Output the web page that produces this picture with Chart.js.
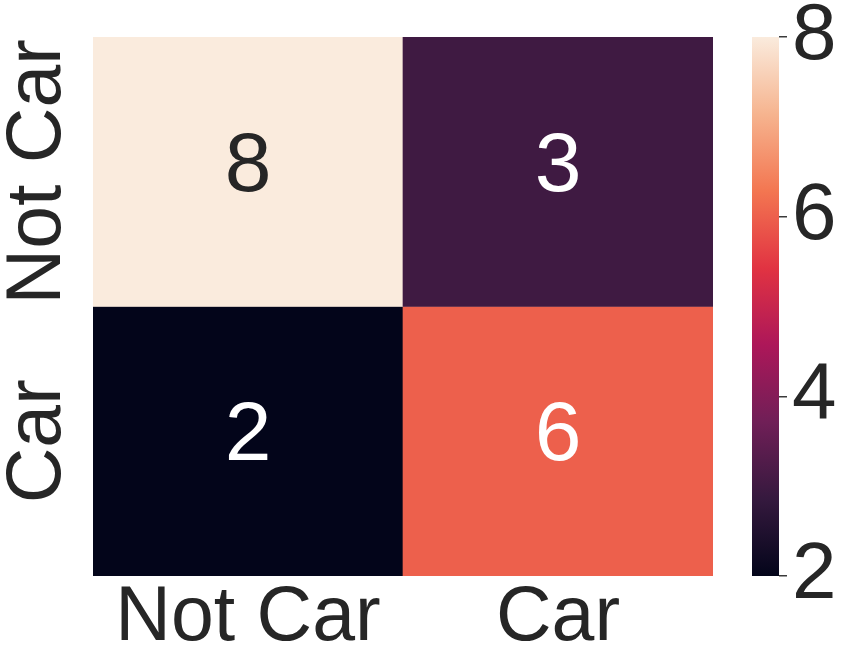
<!DOCTYPE html>
<html lang="en">
<head>
    <meta charset="utf-8">
    <title>Confusion matrix</title>
    <style>
        html, body { margin: 0; padding: 0; background: #ffffff; }
        #chartContainer { width: 844px; height: 669px; }
    </style>
</head>
<body>
<div id="chartContainer">
    <canvas id="myChart" width="844" height="669"></canvas>
</div>
<script src="https://cdn.jsdelivr.net/npm/chart.js@4.4.0/dist/chart.umd.min.js"></script>
<script>
    // data
    var categories = ['Not Car', 'Car'];
    var rowLabels = ['Not Car', 'Car'];          // top row first
    var values = [[8, 3], [2, 6]];               // values[row][col]
    var cbTicks = [2, 4, 6, 8];

    var vmin = 2, vmax = 8;
    var textColor = '#262626';

    // rocket colormap, sampled
    var rocket = [
        [0.000, '#03051a'],
        [0.143, '#35193e'],
        [0.286, '#701f57'],
        [0.429, '#ad1759'],
        [0.571, '#e13342'],
        [0.714, '#f37651'],
        [0.857, '#f6b48f'],
        [1.000, '#faebdd']
    ];

    function hex2rgb(h) {
        return [parseInt(h.substr(1, 2), 16), parseInt(h.substr(3, 2), 16), parseInt(h.substr(5, 2), 16)];
    }

    function rgbFor(v) {
        var t = (v - vmin) / (vmax - vmin);
        t = Math.max(0, Math.min(1, t));
        for (var i = 1; i < rocket.length; i++) {
            if (t <= rocket[i][0]) {
                var a = rocket[i - 1], b = rocket[i];
                var f = (t - a[0]) / (b[0] - a[0]);
                var ca = hex2rgb(a[1]), cb = hex2rgb(b[1]);
                return ca.map(function (x, k) { return Math.round(x + (cb[k] - x) * f); });
            }
        }
        return hex2rgb(rocket[rocket.length - 1][1]);
    }

    function colorFor(v) {
        return 'rgb(' + rgbFor(v).join(',') + ')';
    }

    // relative luminance, as seaborn uses for annotation colour
    function luminance(v) {
        var c = rgbFor(v).map(function (x) {
            x = x / 255;
            return x <= 0.03928 ? x / 12.92 : Math.pow((x + 0.055) / 1.055, 2.4);
        });
        return 0.2126 * c[0] + 0.7152 * c[1] + 0.0722 * c[2];
    }

    // one dataset per row, each bar spans one row band on the y scale
    var datasets = rowLabels.map(function (row, r) {
        var y0 = rowLabels.length - 1 - r;
        return {
            label: row,
            data: categories.map(function () { return [y0, y0 + 1]; }),
            backgroundColor: values[r].map(colorFor),
            borderWidth: 0,
            barPercentage: 1.0,
            categoryPercentage: 1.0,
            grouped: false
        };
    });

    var heatmapPlugin = {
        id: 'heatmapExtras',
        beforeDatasetsDraw: function (chart) {
            // colorbar
            var ctx = chart.ctx;
            var s = chart.scales.cb;
            var grad = ctx.createLinearGradient(0, s.bottom, 0, s.top);
            rocket.forEach(function (st) { grad.addColorStop(st[0], st[1]); });
            ctx.save();
            ctx.fillStyle = grad;
            ctx.fillRect(s.left - 27, s.top, 27, s.bottom - s.top);
            ctx.restore();
        },
        afterDatasetsDraw: function (chart) {
            var ctx = chart.ctx;
            var x = chart.scales.x, y = chart.scales.y;
            ctx.save();
            ctx.textAlign = 'center';
            ctx.textBaseline = 'middle';
            ctx.font = '84px "Liberation Sans", Arial, sans-serif';
            values.forEach(function (row, r) {
                var yc = y.getPixelForValue(rowLabels.length - 1 - r + 0.5);
                row.forEach(function (v, c) {
                    ctx.fillStyle = luminance(v) > 0.408 ? textColor : '#ffffff';
                    ctx.fillText(String(v), x.getPixelForValue(c), yc - 4);
                });
            });
            // rotated row labels
            ctx.fillStyle = textColor;
            ctx.font = '77px "Liberation Sans", Arial, sans-serif';
            rowLabels.forEach(function (lab, r) {
                var yc = y.getPixelForValue(rowLabels.length - 1 - r + 0.5);
                ctx.save();
                ctx.translate(y.right - 54, yc);
                ctx.rotate(-Math.PI / 2);
                ctx.fillText(lab, 0, 0);
                ctx.restore();
            });
            ctx.restore();
        }
    };

    var chart = new Chart(document.getElementById('myChart'), {
        type: 'bar',
        data: { labels: categories, datasets: datasets },
        options: {
            responsive: false,
            animation: false,
            layout: { padding: { top: 37, left: 0, right: 0, bottom: 0 } },
            plugins: { legend: { display: false }, tooltip: { enabled: false } },
            scales: {
                x: {
                    grid: { display: false, drawTicks: false },
                    border: { display: false },
                    ticks: {
                        color: textColor,
                        padding: 4,
                        maxRotation: 0,
                        font: { family: '"Liberation Sans", Arial, sans-serif', size: 77, lineHeight: 1 }
                    },
                    afterFit: function (s) { s.height = 93; }
                },
                y: {
                    min: 0, max: 2,
                    grid: { display: false, drawTicks: false },
                    border: { display: false },
                    ticks: { display: false },
                    afterFit: function (s) { s.width = 93; }
                },
                gap: {
                    type: 'linear', position: 'right', weight: 0,
                    grid: { display: false, drawTicks: false },
                    border: { display: false },
                    ticks: { display: false },
                    afterFit: function (s) { s.width = 66; }
                },
                cb: {
                    type: 'linear', position: 'right', weight: 1,
                    min: vmin, max: vmax,
                    afterBuildTicks: function (s) {
                        s.ticks = cbTicks.map(function (v) { return { value: v }; });
                    },
                    grid: { drawOnChartArea: false, drawTicks: true, tickLength: 8, color: '#3a3a3a', lineWidth: 1.5 },
                    border: { display: false },
                    ticks: {
                        color: textColor,
                        padding: 5,
                        font: { family: '"Liberation Sans", Arial, sans-serif', size: 80, lineHeight: 0.8 }
                    },
                    afterFit: function (s) { s.width = 65; }
                }
            }
        },
        plugins: [heatmapPlugin]
    });
</script>
</body>
</html>
